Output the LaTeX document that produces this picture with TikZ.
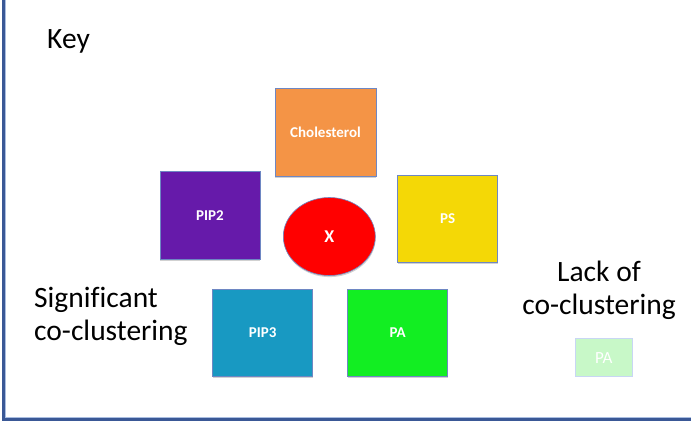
\documentclass[tikz,border=0pt]{standalone}
\usepackage{fontspec}
\setmainfont{Carlito}[Ligatures=NoCommon]
\usetikzlibrary{shapes.geometric,shadows}

\definecolor{framedark}{RGB}{58,88,150}
\definecolor{framelight}{RGB}{170,190,225}
\definecolor{edgeblue}{RGB}{110,135,195}
\definecolor{cholorange}{RGB}{244,148,70}
\definecolor{pipviolet}{RGB}{102,26,170}
\definecolor{psyellow}{RGB}{244,216,6}
\definecolor{piptblue}{RGB}{24,153,194}
\definecolor{pagreen}{RGB}{18,238,34}
\definecolor{pafaint}{RGB}{200,248,200}
\definecolor{pafaintedge}{RGB}{200,214,244}

\tikzset{
  lipid/.style={rectangle, draw=edgeblue, line width=0.6pt, inner sep=0pt,
    minimum width=100pt, minimum height=87pt, text=white,
    font=\fontsize{15}{18}\selectfont\bfseries,
    drop shadow={shadow xshift=0.4pt, shadow yshift=-1.6pt, opacity=0.18, fill=black}},
  keytext/.style={inner sep=0pt, text=black, font=\fontsize{29.5}{33}\selectfont}
}

\begin{document}
\begin{tikzpicture}[x=1pt, y=-1pt]
  \useasboundingbox (0,0) rectangle (691,427);
  \fill[white] (0,0) rectangle (691,427);

  % open frame: left and bottom edges only
  \coordinate (ftop) at (3.5,0);
  \coordinate (fcorner) at (3.5,419.5);
  \coordinate (fright) at (691,419.5);
  \draw[framelight, line width=4pt] (ftop) -- (fcorner) -- (fright);
  \draw[framedark, line width=2.4pt] (ftop) -- (fcorner) -- (fright);

  % headings (base anchors sit on the last line)
  \node[keytext, anchor=base west] (key) at (47,49) {Key};
  \node[keytext, anchor=base west, align=left] (sig) at (34,341) {Significant\\co-clustering};
  \node[keytext, anchor=base, align=center] (lack) at (599,315) {Lack of\\co-clustering};

  % lipids around the central molecule
  \node[lipid, fill=cholorange, minimum width=101pt, minimum height=88pt] (chol) at (325.5,132) {Cholesterol};
  \node[lipid, fill=pipviolet, minimum height=88pt] (pip2) at (210,215.5) {PIP2};
  \node[lipid, fill=psyellow] (ps) at (447.7,219) {PS};
  \node[lipid, fill=piptblue] (pip3) at (262.7,333) {PIP3};
  \node[lipid, fill=pagreen] (pa) at (397.7,333) {PA};
  \node[ellipse, draw=edgeblue, line width=0.6pt, fill=red, inner sep=0pt,
    minimum width=92pt, minimum height=78pt, text=white,
    font=\fontsize{18}{22}\selectfont\bfseries,
    drop shadow={shadow xshift=0.4pt, shadow yshift=-1.6pt, opacity=0.18, fill=black}] (x) at (329.3,236.5) {X};

  % faded lipid for lack of co-clustering
  \node[rectangle, draw=pafaintedge, line width=0.6pt, fill=pafaint, inner sep=0pt,
    minimum width=57pt, minimum height=38pt, text=white,
    font=\fontsize{17}{20}\selectfont] (pafaded) at (603.8,357.8) {PA};
\end{tikzpicture}
\end{document}
